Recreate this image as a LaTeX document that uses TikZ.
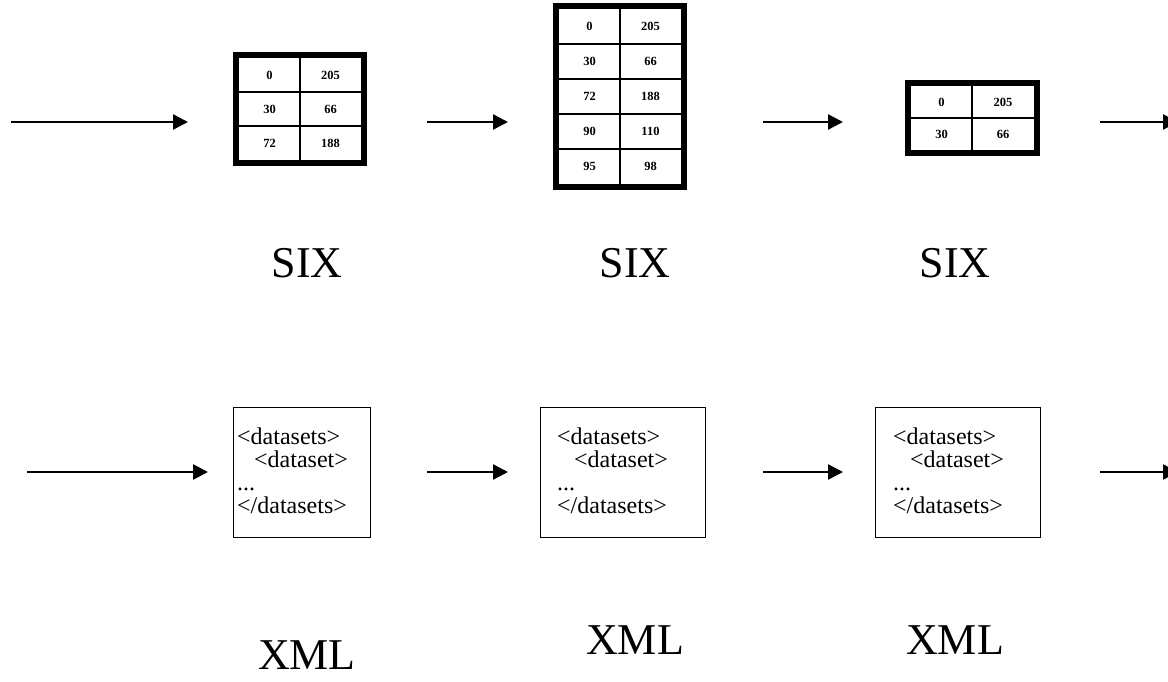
\documentclass[tikz,border=0pt]{standalone}
\usepackage{fontspec}
\setmainfont{Liberation Serif}
\usetikzlibrary{arrows.meta,positioning}

\begin{document}
\begin{tikzpicture}[x=1pt,y=-1pt,>={Triangle[length=15pt,width=15pt]},
  flow/.style={->,line width=2.4pt},
  tableframe/.style={line width=6pt},
  gridline/.style={line width=2.2pt},
  cell/.style={font=\fontsize{12.5}{12.5}\selectfont\bfseries,inner sep=0pt},
  xmlbox/.style={draw,line width=1.4pt,anchor=north west,inner sep=0pt},
  xmltext/.style={font=\fontsize{24}{23}\selectfont,align=left,anchor=north west,inner sep=0pt},
  bigword/.style={font=\fontsize{44}{44}\selectfont,anchor=base,inner sep=0pt}]
  \useasboundingbox (0,0) rectangle (1168,682);

  % first table
  \draw[tableframe] (236,55) rectangle (364,163);
  \draw[gridline] (300,58) -- (300,160);
  \foreach \r in {92,126} \draw[gridline] (239,\r) -- (361,\r);
  \foreach \a/\b [count=\i] in {0/205,30/66,72/188}{
    \node[cell] (sa\i) at (269.5,{41+34*\i}) {\a};
    \node[cell] (sb\i) at (330.5,{41+34*\i}) {\b};
  }

  % second table
  \draw[tableframe] (556,6) rectangle (684,187);
  \draw[gridline] (620,9) -- (620,184);
  \foreach \r in {44,79,114,149} \draw[gridline] (559,\r) -- (681,\r);
  \foreach \a/\b [count=\i] in {0/205,30/66,72/188,90/110,95/98}{
    \node[cell] (ta\i) at (589.5,{-8.5+35*\i}) {\a};
    \node[cell] (tb\i) at (650.5,{-8.5+35*\i}) {\b};
  }

  % third table
  \draw[tableframe] (908,83) rectangle (1037,153);
  \draw[gridline] (972,86) -- (972,150);
  \draw[gridline] (911,118) -- (1034,118);
  \foreach \a/\b [count=\i] in {0/205,30/66}{
    \node[cell] (ua\i) at (941.5,{70+32*\i}) {\a};
    \node[cell] (ub\i) at (1003,{70+32*\i}) {\b};
  }

  % arrows
  \foreach \s/\e [count=\i] in {11/188,427/508,763/843,1100/1178}{
    \coordinate (ts\i) at (\s,122);
    \coordinate (te\i) at (\e,122);
    \draw[flow] (ts\i) -- (te\i);
  }
  \foreach \s/\e [count=\i] in {27/208,427/508,763/843,1100/1178}{
    \coordinate (bs\i) at (\s,472);
    \coordinate (be\i) at (\e,472);
    \draw[flow] (bs\i) -- (be\i);
  }

  % xml boxes
  \foreach \x/\w/\p [count=\i] in {233/137/4,540/165/17,875/165/18}{
    \node[xmlbox,minimum width=\w pt,minimum height=130pt] (xb\i) at (\x,407) {};
    \node[xmltext] (xt\i) at (\x+\p,428)
      {<datasets>\\\hspace*{17pt}<dataset>\\...\\</datasets>};
  }

  % labels
  \node[bigword] (six1) at (307,277) {SIX};
  \node[bigword] (six2) at (635,277) {SIX};
  \node[bigword] (six3) at (955,277) {SIX};
  \node[bigword] (xml1) at (307,669) {XML};
  \node[bigword] (xml2) at (635,654) {XML};
  \node[bigword] (xml3) at (955,654) {XML};
\end{tikzpicture}
\end{document}
